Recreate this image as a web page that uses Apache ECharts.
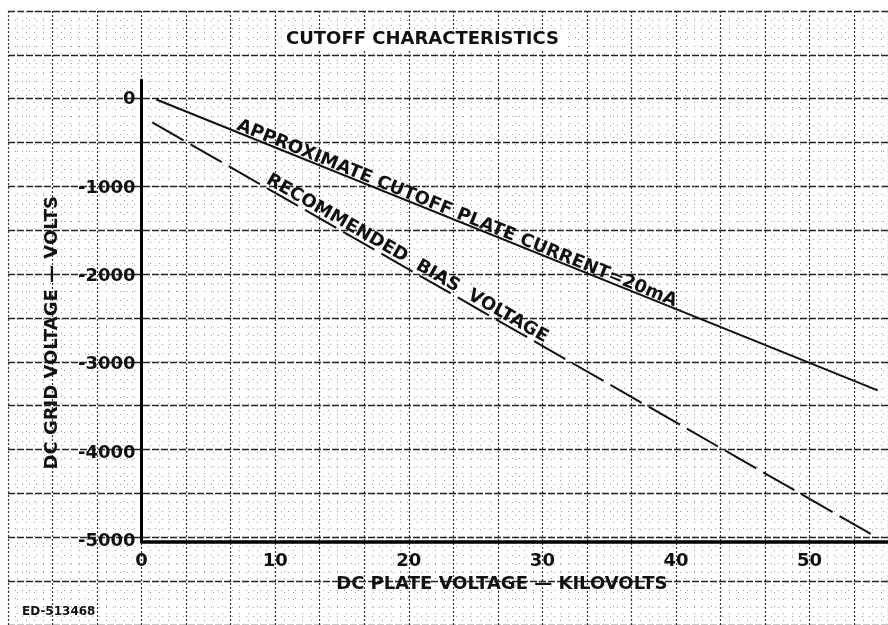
<!DOCTYPE html>
<html>
<head>
<meta charset="utf-8">
<script src="https://cdn.jsdelivr.net/npm/echarts@6/dist/echarts.min.js"></script>
<style>
  html, body { margin: 0; padding: 0; background: #fff; }
  #chart { width: 888px; height: 625px; }
</style>
</head>
<body>
<div id="chart"></div>
<script>
// values
const cutoffKv = [1.1, 55.1];
const cutoffV = [0, -3290];
const biasKv = [0.8, 55.0];
const biasV = [-260, -4950];

// where the line captions sit (data units)
const cutoffLabelAt = [23.6, -1290];
const biasLabelAt = [19.87, -1800];

const FONT = "DejaVu Sans";
const INK = "#111";

const chart = echarts.init(document.getElementById("chart"));

const option = {
  backgroundColor: "#fff",
  animation: false,
  title: [
    {
      text: "CUTOFF CHARACTERISTICS",
      left: 282,
      top: 29,
      padding: [1, 4],
      backgroundColor: "#fff",
      textStyle: { fontFamily: FONT, fontSize: 18, fontWeight: "bold", color: INK },
    },
    {
      text: "ED-513468",
      left: 22,
      top: 606,
      padding: 0,
      textStyle: { fontFamily: FONT, fontSize: 12, fontWeight: "bold", color: INK },
    },
  ],
  grid: [
    // graph paper
    { left: 8, right: 0, top: 11, bottom: -5, containLabel: false },
    // data area
    { left: 141.6, right: 0, top: 80, bottom: 83.4, containLabel: false },
  ],
  xAxis: [
    {
      gridIndex: 0, type: "value", min: -10, max: 55.87, interval: 10 / 3,
      axisLine: { show: false }, axisTick: { show: false }, axisLabel: { show: false },
      splitLine: { show: true, lineStyle: { color: "#333", width: 1.2, type: [2, 2] } },
      minorTick: { show: false, splitNumber: 5 },
      minorSplitLine: { show: true, lineStyle: { color: "#999", width: 1, type: [1, 6] } },
    },
    {
      gridIndex: 1, type: "value", min: 0, max: 55.87, interval: 10,
      name: "DC PLATE VOLTAGE \u2014 KILOVOLTS",
      nameLocation: "middle",
      nameGap: 20,
      nameTextStyle: {
        fontFamily: FONT, fontSize: 18, fontWeight: "bold", color: INK, padding: [0, 26, 0, 0],
      },
      axisLine: { show: true, onZero: false, lineStyle: { color: "#000", width: 3.5 } },
      axisTick: { show: false },
      axisLabel: {
        margin: 11, fontFamily: FONT, fontSize: 18, fontWeight: "bold", color: INK, showMaxLabel: false,
      },
      splitLine: { show: false },
    },
  ],
  yAxis: [
    {
      gridIndex: 0, type: "value", min: -6000, max: 1000, interval: 500,
      axisLine: { show: false }, axisTick: { show: false }, axisLabel: { show: false },
      splitLine: { show: true, lineStyle: { color: "#222", width: 1.4, type: [7, 2] } },
      minorTick: { show: false, splitNumber: 5 },
      minorSplitLine: { show: true, lineStyle: { color: "#999", width: 1, type: [1, 6] } },
    },
    {
      gridIndex: 1, type: "value", min: -5000, max: 220, interval: 1000,
      name: "DC GRID VOLTAGE \u2014 VOLTS",
      nameLocation: "middle",
      nameRotate: 90,
      nameGap: 80,
      nameTextStyle: {
        fontFamily: FONT, fontSize: 18, fontWeight: "bold", color: INK, padding: [0, 44, 0, 0],
      },
      axisLine: { show: true, onZero: false, lineStyle: { color: "#000", width: 3 } },
      axisTick: { show: false },
      axisLabel: {
        margin: 6, fontFamily: FONT, fontSize: 18, fontWeight: "bold", color: INK, showMaxLabel: false,
        formatter: (v) => String(v),
      },
      splitLine: { show: false },
    },
  ],
  series: [
    {
      name: "cutoff",
      type: "line",
      xAxisIndex: 1,
      yAxisIndex: 1,
      data: cutoffKv.map((kv, i) => [kv, cutoffV[i]]),
      symbol: "none",
      lineStyle: { color: INK, width: 2 },
      markPoint: {
        symbol: "circle",
        symbolSize: 0,
        data: [{ coord: cutoffLabelAt }],
        label: {
          show: true,
          position: "inside",
          rotate: -22,
          formatter: "APPROXIMATE CUTOFF PLATE CURRENT=20mA",
          fontFamily: FONT, fontSize: 18, fontWeight: "bold", color: INK,
        },
      },
    },
    {
      name: "bias",
      type: "line",
      xAxisIndex: 1,
      yAxisIndex: 1,
      data: biasKv.map((kv, i) => [kv, biasV[i]]),
      symbol: "none",
      lineStyle: { color: INK, width: 2, type: [36, 8] },
      markPoint: {
        symbol: "circle",
        symbolSize: 0,
        data: [{ coord: biasLabelAt }],
        label: {
          show: true,
          position: "inside",
          rotate: -29.8,
          formatter: "RECOMMENDED  BIAS  VOLTAGE",
          fontFamily: FONT, fontSize: 18, fontWeight: "bold", color: INK,
        },
      },
    },
  ],
};

chart.setOption(option);
window.addEventListener("resize", () => chart.resize());
</script>
</body>
</html>
